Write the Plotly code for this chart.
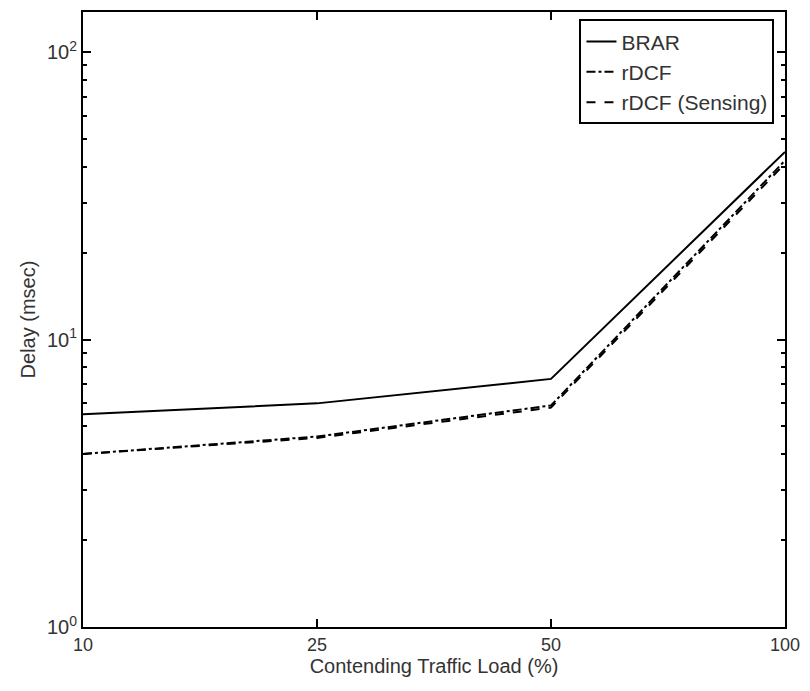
import plotly.graph_objects as go

loads = ["10", "25", "50", "100"]
brar = [5.5, 6.0, 7.3, 45.0]
rdcf = [4.0, 4.6, 5.9, 42.0]
rdcf_sensing = [4.0, 4.55, 5.8, 41.0]

xpos = list(range(len(loads)))

fig = go.Figure()
fig.add_trace(go.Scatter(x=xpos, y=brar, mode="lines", name="BRAR",
                         line=dict(color="black", width=2, dash="solid")))
fig.add_trace(go.Scatter(x=xpos, y=rdcf, mode="lines", name="rDCF",
                         line=dict(color="black", width=2, dash="dashdot")))
fig.add_trace(go.Scatter(x=xpos, y=rdcf_sensing, mode="lines", name="rDCF (Sensing)",
                         line=dict(color="black", width=2, dash="dash")))

fig.update_layout(
    width=810, height=691,
    margin=dict(l=83, r=21, t=10, b=64),
    paper_bgcolor="white", plot_bgcolor="white",
    font=dict(family="Liberation Sans, Arial, sans-serif", size=17, color="#333"),
    showlegend=True,
    legend=dict(x=0.985, y=0.988, xanchor="right", yanchor="top",
                bgcolor="white", bordercolor="black", borderwidth=2,
                font=dict(size=21, color="#333"), tracegroupgap=0),
    xaxis=dict(
        range=[0, 3], tickvals=xpos, ticktext=loads,
        ticks="inside", ticklen=8, tickcolor="black", tickwidth=1.5,
        tickfont=dict(size=18),
        showline=True, linecolor="black", linewidth=2, mirror="ticks",
        showgrid=False, zeroline=False,
        title=dict(text="Contending Traffic Load (%)", standoff=4),
    ),
    yaxis=dict(
        type="log", range=[0, 2.14],
        tickvals=[1, 10, 100],
        ticktext=["10<sup>0</sup>", "10<sup>1</sup>", "10<sup>2</sup>"],
        ticks="inside", ticklen=8, tickcolor="black", tickwidth=1.5,
        tickfont=dict(size=20),
        minor=dict(ticks="inside", ticklen=4, tickcolor="black", tickwidth=1.5,
                   tickvals=[2,3,4,5,6,7,8,9,20,30,40,50,60,70,80,90]),
        showline=True, linecolor="black", linewidth=2, mirror="ticks",
        showgrid=False, zeroline=False,
        title=dict(text="Delay (msec)", standoff=6),
    ),
)

fig.write_html("out.html")
